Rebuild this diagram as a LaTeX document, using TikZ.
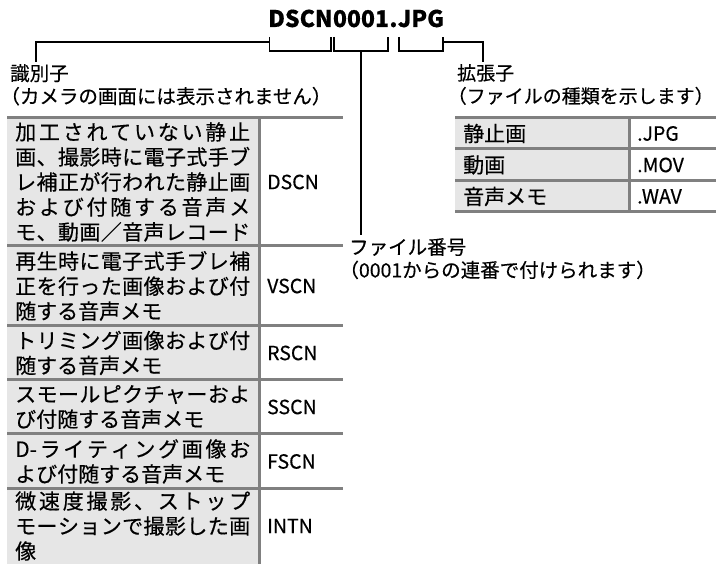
\documentclass[tikz,border=0pt]{standalone}
\usepackage{fontspec}
\setmainfont{Noto Sans CJK JP}[FakeBold=0.4]
\usetikzlibrary{positioning}

\definecolor{cellgray}{HTML}{E6E6E6}
\definecolor{rulegray}{HTML}{808080}

% one justified table line, glyphs spread to the cell width
\newlength\cellw
\setlength\cellw{235pt}
\def\jl#1{\hbox to\cellw{\jlaux#1\jlend}}
\def\jlaux#1#2\jlend{#1\ifx\relax#2\relax\else\hfil\jlaux#2\jlend\fi}

\begin{document}
\begin{tikzpicture}[
    x=1pt, y=-1pt,
    tpart/.style={inner sep=0pt, anchor=base west, font=\fontsize{23}{27}\selectfont\bfseries},
    hd/.style={inner sep=0pt, anchor=north west, align=left, font=\fontsize{#1}{23}\selectfont\addfontfeature{RawFeature=+halt}},
    hd/.default=19.5,
    desc/.style={inner sep=0pt, anchor=west, align=left, font=\fontsize{21}{25}\selectfont},
    codetxt/.style={inner sep=0pt, anchor=west, font=\fontsize{19.5}{24}\selectfont},
    brk/.style={draw=black, line width=1.8pt},
    rulel/.style={draw=rulegray, line width=3pt}
]
\useasboundingbox (0,0) rectangle (716,564);
% file name
\node[tpart] (tD) at (268,27) {DSCN};
\node[tpart] (t0) at (tD.base east) {0001};
\node[tpart] (tdot) at (t0.base east) {.};
\node[tpart] (tJ) at (tdot.base east) {JPG};
\coordinate (topline) at (0,37);
\coordinate (leadline) at (0,42);
\coordinate (botline) at (0,51);
% brackets
\foreach \p in {tD,t0,tJ}{
  \draw[brk] ([xshift=1.5pt]\p.west |- topline) -- ([xshift=1.5pt]\p.west |- botline)
    -- ([xshift=-1.5pt]\p.east |- botline) -- ([xshift=-1.5pt]\p.east |- topline);
}
% captions
\node[hd] (idhead) at (10,64) {識別子\\（カメラの画面には表示されません）};
\node[hd=19] (exthead) at (457,64) {拡張子\\（ファイルの種類を示します）};
\node[hd] (numhead) at (349,238) {ファイル番号\\（0001からの連番で付けられます）};
\coordinate (idtip) at (36,62);
\coordinate (extip) at (483,62);
\coordinate (numend) at (0,235);
% leaders
\draw[brk] ([xshift=1.5pt]tD.west |- leadline) -| (idtip);
\draw[brk] ([xshift=-1.5pt]tJ.east |- leadline) -| (extip);
\draw[brk] (t0.center |- botline) -- (t0.center |- numend);
% identifier table
\fill[cellgray] (7,118) rectangle (258,570);
\draw[rulel] (259.5,118) -- (259.5,570);
\foreach \y in {118,246,326,380,434,489}{\draw[rulel] (7,\y) -- (343,\y);}
\foreach \n/\c/\y/\txt in {
  dscn/DSCN/182/{\jl{加工されていない静止}\\\jl{画、撮影時に電子式手ブ}\\\jl{レ補正が行われた静止画}\\\jl{および付随する音声メ}\\\jl{モ、動画／音声レコード}},
  vscn/VSCN/286/{\jl{再生時に電子式手ブレ補}\\\jl{正を行った画像および付}\\随する音声メモ},
  rscn/RSCN/353/{\jl{トリミング画像および付}\\随する音声メモ},
  sscn/SSCN/407/{\jl{スモールピクチャーおよ}\\び付随する音声メモ},
  fscn/FSCN/461.5/{\jl{{D-}ライティング画像お}\\よび付随する音声メモ},
  intn/INTN/526/{\jl{微速度撮影、ストップ}\\\jl{モーションで撮影した画}\\像}}{
  \node[desc] (d\n) at (15,\y) {\txt};
  \node[codetxt] (c\n) at (267,\y) {\c};
}
% extension table
\fill[cellgray] (455,118) rectangle (628,212);
\draw[rulel] (629.5,118) -- (629.5,212);
\foreach \y in {118,149,181,212}{\draw[rulel] (455,\y) -- (716,\y);}
\foreach \n/\c/\y/\txt in {jpg/.JPG/133.5/静止画, mov/.MOV/165/動画, wav/.WAV/196.5/音声メモ}{
  \node[desc] (e\n) at (463,\y) {\txt};
  \node[codetxt] (x\n) at (637,\y) {\c};
}
\end{tikzpicture}
\end{document}
